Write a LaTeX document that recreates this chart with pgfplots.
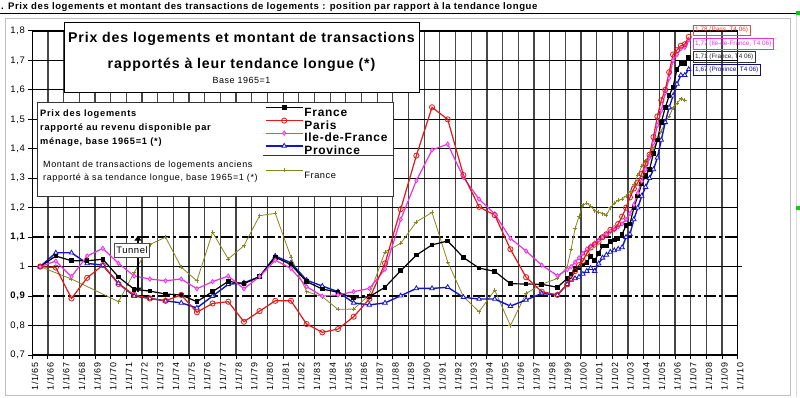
\documentclass[border=0pt]{standalone}
\usepackage{fontspec}
\setmainfont{Liberation Sans}
\newfontfamily\xl{Liberation Sans}[LetterSpace=6]
\usepackage{pgfplots}
\pgfplotsset{compat=1.18}
\usetikzlibrary{arrows.meta}
\definecolor{cParis}{RGB}{225,25,25}
\definecolor{cIdF}{RGB}{235,50,225}
\definecolor{cIdFl}{RGB}{250,160,250}
\definecolor{cProv}{RGB}{20,20,200}
\definecolor{cOlive}{RGB}{135,135,30}
\definecolor{gridc}{RGB}{70,70,70}
\definecolor{hgreen}{RGB}{20,200,20}

\pgfplotstableread{
x y
1965.5 1.000
1966.5 1.036
1967.5 1.020
1968.5 1.020
1969.5 1.025
1970.5 0.965
1971.5 0.923
1972.5 0.917
1973.5 0.907
1974.5 0.904
1975.5 0.881
1976.5 0.915
1977.5 0.950
1978.5 0.942
1979.5 0.966
1980.5 1.032
1981.5 1.007
1982.5 0.949
1983.5 0.924
1984.5 0.913
1985.5 0.893
1986.5 0.898
1987.5 0.930
1988.5 0.986
1989.5 1.039
1990.5 1.074
1991.5 1.087
1992.5 1.031
1993.5 0.995
1994.5 0.984
1995.5 0.942
1996.5 0.941
1997.5 0.940
1998.5 0.930
1999.125 0.960
1999.375 0.975
1999.625 0.990
1999.875 0.995
2000.125 1.005
2000.375 1.015
2000.625 1.035
2000.875 1.020
2001.125 1.045
2001.375 1.070
2001.625 1.070
2001.875 1.085
2002.125 1.090
2002.375 1.095
2002.625 1.110
2002.875 1.140
2003.125 1.145
2003.375 1.200
2003.625 1.240
2003.875 1.280
2004.125 1.310
2004.375 1.330
2004.625 1.385
2004.875 1.430
2005.125 1.490
2005.375 1.540
2005.625 1.580
2005.875 1.610
2006.125 1.670
2006.375 1.690
2006.625 1.690
2006.875 1.710
}\France

\pgfplotstableread{
x y
1965.5 1.000
1966.5 0.997
1967.5 0.892
1968.5 0.962
1969.5 1.005
1970.5 0.941
1971.5 0.904
1972.5 0.892
1973.5 0.884
1974.5 0.904
1975.5 0.845
1976.5 0.875
1977.5 0.881
1978.5 0.813
1979.5 0.849
1980.5 0.884
1981.5 0.884
1982.5 0.805
1983.5 0.777
1984.5 0.788
1985.5 0.830
1986.5 0.890
1987.5 1.011
1988.5 1.195
1989.5 1.377
1990.5 1.541
1991.5 1.500
1992.5 1.311
1993.5 1.203
1994.5 1.175
1995.5 1.059
1996.5 0.964
1997.5 0.915
1998.5 0.904
1999.125 0.940
1999.375 0.960
1999.625 0.985
1999.875 1.005
2000.125 1.020
2000.375 1.045
2000.625 1.065
2000.875 1.075
2001.125 1.085
2001.375 1.100
2001.625 1.110
2001.875 1.125
2002.125 1.130
2002.375 1.145
2002.625 1.170
2002.875 1.200
2003.125 1.235
2003.375 1.265
2003.625 1.285
2003.875 1.315
2004.125 1.350
2004.375 1.380
2004.625 1.440
2004.875 1.510
2005.125 1.565
2005.375 1.600
2005.625 1.660
2005.875 1.720
2006.125 1.735
2006.375 1.750
2006.625 1.755
2006.875 1.780
}\Paris

\pgfplotstableread{
x y
1965.5 1.000
1966.5 1.019
1967.5 0.966
1968.5 1.036
1969.5 1.062
1970.5 1.011
1971.5 0.968
1972.5 0.958
1973.5 0.952
1974.5 0.958
1975.5 0.925
1976.5 0.949
1977.5 0.968
1978.5 0.925
1979.5 0.966
1980.5 1.022
1981.5 0.994
1982.5 0.932
1983.5 0.900
1984.5 0.904
1985.5 0.915
1986.5 0.926
1987.5 0.991
1988.5 1.160
1989.5 1.292
1990.5 1.396
1991.5 1.416
1992.5 1.303
1993.5 1.229
1994.5 1.179
1995.5 1.096
1996.5 1.053
1997.5 1.005
1998.5 0.969
1999.125 0.990
1999.375 1.000
1999.625 1.015
1999.875 1.030
2000.125 1.045
2000.375 1.060
2000.625 1.070
2000.875 1.080
2001.125 1.090
2001.375 1.100
2001.625 1.110
2001.875 1.120
2002.125 1.125
2002.375 1.135
2002.625 1.145
2002.875 1.160
2003.125 1.180
2003.375 1.210
2003.625 1.250
2003.875 1.290
2004.125 1.330
2004.375 1.370
2004.625 1.420
2004.875 1.480
2005.125 1.530
2005.375 1.590
2005.625 1.640
2005.875 1.700
2006.125 1.720
2006.375 1.740
2006.625 1.745
2006.875 1.770
}\IdF

\pgfplotstableread{
x y
1965.5 1.000
1966.5 1.047
1967.5 1.047
1968.5 1.011
1969.5 1.005
1970.5 0.943
1971.5 0.900
1972.5 0.892
1973.5 0.884
1974.5 0.877
1975.5 0.860
1976.5 0.900
1977.5 0.940
1978.5 0.945
1979.5 0.966
1980.5 1.036
1981.5 1.013
1982.5 0.954
1983.5 0.934
1984.5 0.915
1985.5 0.877
1986.5 0.870
1987.5 0.877
1988.5 0.901
1989.5 0.926
1990.5 0.926
1991.5 0.930
1992.5 0.896
1993.5 0.890
1994.5 0.890
1995.5 0.866
1996.5 0.887
1997.5 0.909
1998.5 0.904
1999.125 0.940
1999.375 0.955
1999.625 0.960
1999.875 0.965
2000.125 0.975
2000.375 0.985
2000.625 0.995
2000.875 0.985
2001.125 1.010
2001.375 1.030
2001.625 1.040
2001.875 1.050
2002.125 1.055
2002.375 1.060
2002.625 1.065
2002.875 1.100
2003.125 1.110
2003.375 1.160
2003.625 1.200
2003.875 1.240
2004.125 1.270
2004.375 1.300
2004.625 1.330
2004.875 1.370
2005.125 1.430
2005.375 1.490
2005.625 1.540
2005.875 1.580
2006.125 1.620
2006.375 1.650
2006.625 1.650
2006.875 1.670
}\Province

\pgfplotstableread{
x y
1965.5 1.000
1967.5 0.958
1970.5 0.881
1971.5 0.980
1972.5 1.075
1973.5 1.100
1974.5 0.998
1975.5 0.952
1976.5 1.116
1977.5 1.026
1978.5 1.071
1979.5 1.173
1980.5 1.181
1981.5 1.032
1982.5 0.915
1983.5 0.898
1984.5 0.855
1985.5 0.856
1986.5 0.904
1987.5 1.050
1988.5 1.079
1989.5 1.152
1990.5 1.184
1991.5 1.016
1992.5 0.898
1993.5 0.847
1994.5 0.920
1995.5 0.800
1996.5 0.909
1997.5 0.940
1998.5 0.960
1999.125 1.000
1999.375 1.060
1999.625 1.130
1999.875 1.170
2000.125 1.210
2000.375 1.215
2000.625 1.205
2000.875 1.190
2001.125 1.185
2001.375 1.180
2001.625 1.175
2001.875 1.200
2002.125 1.215
2002.375 1.225
2002.625 1.230
2002.875 1.240
2003.125 1.255
2003.375 1.280
2003.625 1.310
2003.875 1.340
2004.125 1.360
2004.375 1.380
2004.625 1.400
2004.875 1.430
2005.125 1.460
2005.375 1.490
2005.625 1.510
2005.875 1.540
2006.125 1.555
2006.375 1.570
2006.625 1.565
}\Transac

\begin{document}
\begin{tikzpicture}[x=1bp,y=1bp]
\useasboundingbox (0,0) rectangle (800,397);
\fill[white] (0,0) rectangle (800,397);
\draw[black!25, line width=1bp] (5,2) rectangle (790.5,378);
\draw[black!15, line width=1bp] (796,0) -- (796,383);
\node[anchor=base west, inner sep=0pt, font=\xl\fontsize{9.6}{10}\selectfont\bfseries] at (1,387.5) {. Prix des logements et montant des transactions de logements : position par rapport à la tendance longue};
\draw[black, line width=0.8bp] (0,383.5) -- (800,383.5);

\begin{axis}[
  at={(32.3bp,42bp)}, anchor=south west, scale only axis,
  width=705.4bp, height=324bp,
  xmin=1965, xmax=2010, ymin=0.7, ymax=1.8,
  clip=false,
  axis line style={black, line width=1.2bp},
  tick align=outside, tick pos=left,
  major tick length=4bp,
  tick style={black, line width=1bp},
  xtick={1965,1966,...,2010},
  xticklabels={1/1/65,1/1/66,1/1/67,1/1/68,1/1/69,1/1/70,1/1/71,1/1/72,1/1/73,1/1/74,1/1/75,1/1/76,1/1/77,1/1/78,1/1/79,1/1/80,1/1/81,1/1/82,1/1/83,1/1/84,1/1/85,1/1/86,1/1/87,1/1/88,1/1/89,1/1/90,1/1/91,1/1/92,1/1/93,1/1/94,1/1/95,1/1/96,1/1/97,1/1/98,1/1/99,1/1/00,1/1/01,1/1/02,1/1/03,1/1/04,1/1/05,1/1/06,1/1/07,1/1/08,1/1/09,1/1/10},
  xticklabel style={font=\xl\fontsize{9}{10}\selectfont, xshift=2.5bp, rotate=90, anchor=east},
  ytick={0.7,0.8,0.9,1,1.1,1.2,1.3,1.4,1.5,1.6,1.7,1.8},
  yticklabels={{0,7},{0,8},{\bfseries 0,9},{1},{\bfseries 1,1},{1,2},{1,3},{1,4},{1,5},{1,6},{1,7},{1,8}},
  yticklabel style={font=\xl\fontsize{9.5}{10}\selectfont},
  xmajorgrids, ymajorgrids=false,
  major grid style={gridc, line width=1.2bp},
]
\pgfplotsinvokeforeach{0.8,1.2,1.3,1.4,1.5,1.6,1.7,1.8}{
  \draw[black, line width=1bp] (axis cs:1965,#1) -- (axis cs:2010,#1);
}
\draw[black, line width=1.6bp, dash pattern=on 12bp off 3bp on 3bp off 3bp] (axis cs:1965,0.9) -- (axis cs:2010,0.9);
\draw[black, line width=1.6bp, dash pattern=on 12bp off 3bp on 3bp off 3bp] (axis cs:1965,1.1) -- (axis cs:2010,1.1);
\draw[black, line width=1.6bp] (axis cs:1965,1) -- (axis cs:2010.28,1);

\addplot[cOlive, line width=0.8bp, mark=+, mark size=2bp, mark options={solid, line width=0.7bp}] table[x=x,y=y] {\Transac};
\addplot[cProv, line width=1.4bp, mark=triangle*, mark size=2.6bp, mark options={solid, fill=white, line width=0.8bp}] table[x=x,y=y] {\Province};
\addplot[black, line width=1.2bp, mark=square*, mark size=1.7bp, mark options={solid}] table[x=x,y=y] {\France};
\addplot[cIdF, line width=1.2bp, mark=diamond*, mark size=2.2bp, mark options={solid, fill=cIdFl, line width=0.7bp}] table[x=x,y=y] {\IdF};
\addplot[cParis, line width=1.2bp, mark=o, mark size=2.6bp, mark options={solid, line width=0.8bp}] table[x=x,y=y] {\Paris};

\draw[black, line width=2.8bp, {Triangle[length=5bp,width=7bp]}-{Triangle[length=5bp,width=7bp]}] (axis cs:1971.74,0.912) -- (axis cs:1971.74,1.105);
\end{axis}

% title box
\draw[black, line width=0.8bp, fill=white] (64,305) rectangle (419,375);
\node[anchor=base, inner sep=0pt, font=\xl\fontsize{14.2}{16}\selectfont\bfseries] at (241.5,354.8) {Prix des logements et montant de transactions};
\node[anchor=base, inner sep=0pt, font=\xl\fontsize{14.2}{16}\selectfont\bfseries] at (241.5,328.8) {rapportés à leur tendance longue (*)};
\node[anchor=base, inner sep=0pt, font=\xl\fontsize{9}{10}\selectfont] at (241.5,313.8) {Base 1965=1};

% legend box
\draw[black!80, line width=0.8bp, fill=white] (37,201) rectangle (393.5,295);
\node[anchor=base west, inner sep=0pt, font=\xl\fontsize{9.3}{10}\selectfont\bfseries\addfontfeature{LetterSpace=8}] at (40,280.7) {Prix des logements};
\node[anchor=base west, inner sep=0pt, font=\xl\fontsize{9.3}{10}\selectfont\bfseries\addfontfeature{LetterSpace=8}] at (40,266.7) {rapporté au revenu disponible par};
\node[anchor=base west, inner sep=0pt, font=\xl\fontsize{9.3}{10}\selectfont\bfseries\addfontfeature{LetterSpace=8}] at (40,252.7) {ménage, base 1965=1 (*)};
\node[anchor=base west, inner sep=0pt, font=\xl\fontsize{9}{10}\selectfont\addfontfeature{LetterSpace=7}] at (43,229.8) {Montant de transactions de logements anciens};
\node[anchor=base west, inner sep=0pt, font=\xl\fontsize{9}{10}\selectfont\addfontfeature{LetterSpace=7}] at (43,216.8) {rapporté à sa tendance longue, base 1965=1 (*)};
\draw[black!80, line width=0.8bp] (263,242) -- (393.5,242);

% tunnel label
\node[draw=black!70, fill=white, line width=0.8bp, font=\xl\fontsize{9.5}{10}\selectfont, inner xsep=1.5bp, inner ysep=2bp, minimum height=14bp] at (132,147) {Tunnel};

% end-value labels
\node[draw=cParis!80, text=cParis!85, anchor=west, font=\fontsize{6.4}{7}\selectfont, inner xsep=2bp, inner ysep=1bp, minimum height=10bp] at (693,367) {1,78 (Paris, T4 06)};
\node[draw=cIdF, text=cIdF, anchor=west, font=\fontsize{6.4}{7}\selectfont, inner xsep=2bp, inner ysep=1bp, minimum height=10.5bp] at (693,353.5) {1,77 (Ile-de-France, T4 06)};
\node[draw=black!80, text=black!85, anchor=west, font=\fontsize{6.4}{7}\selectfont, inner xsep=2bp, inner ysep=1bp, minimum height=10.5bp] at (693,340.5) {1,71 (France, T4 06)};
\node[draw=cProv!70!black, text=cProv!70!black, anchor=west, font=\fontsize{6.4}{7}\selectfont, inner xsep=2bp, inner ysep=1bp, minimum height=10.5bp] at (693,327.5) {1,67 (Province, T4 06)};

% selection handles
\fill[hgreen] (796,382) rectangle (800,386);
\fill[hgreen] (796,187) rectangle (800,191);

% legend (second, hidden axis)
\begin{axis}[
  at={(32.3bp,42bp)}, anchor=south west, scale only axis,
  width=705.4bp, height=324bp,
  xmin=1965, xmax=2010, ymin=0.7, ymax=1.8,
  hide axis,
  legend cell align=left,
  legend style={draw=none, fill=none, at={(rel axis cs:0.3299,0.7685)}, anchor=north west,
    inner sep=0pt, outer sep=0pt, row sep=0pt, column sep=1bp,
    font=\xl\fontsize{12}{12}\selectfont\bfseries,
    nodes={inner sep=0pt, text height=10.3bp, text depth=1.7bp}},
  legend image code/.code={\draw[mark repeat=2, mark phase=2] plot coordinates {(0bp,4.3bp) (18.5bp,4.3bp) (37bp,4.3bp)};},
]
\addlegendimage{black, line width=1.2bp, mark=square*, mark size=1.7bp, mark options={solid}}
\addlegendentry{France}
\addlegendimage{cParis, line width=1.2bp, mark=o, mark size=2.6bp, mark options={solid, line width=0.8bp}}
\addlegendentry{Paris}
\addlegendimage{cIdF, line width=1.2bp, mark=diamond*, mark size=2.2bp, mark options={solid, fill=cIdFl, line width=0.7bp}}
\addlegendentry{Ile-de-France}
\addlegendimage{cProv, line width=1.4bp, mark=triangle*, mark size=2.6bp, mark options={solid, fill=white, line width=0.8bp}}
\addlegendentry{Province}
\addlegendimage{empty legend}
\addlegendentry{}
\addlegendimage{cOlive, line width=0.8bp, mark=+, mark size=2bp, mark options={solid, line width=0.7bp}}
\addlegendentry{\mdseries\fontsize{9.3}{10}\selectfont France}
\end{axis}
\end{tikzpicture}
\end{document}
